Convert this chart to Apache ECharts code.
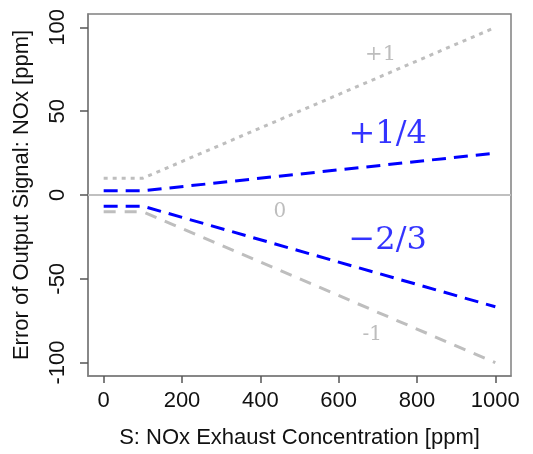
<!DOCTYPE html>
<html><head><meta charset="utf-8">
<script src="https://cdn.jsdelivr.net/npm/echarts@6/dist/echarts.min.js"></script>
<style>html,body{margin:0;padding:0;background:#fff}#c{width:533px;height:454px}</style>
</head><body><div id="c"></div>
<script>
// Data
const sValues = [0, 100, 1000];
const plusOne = [10, 10, 100];
const plusQuarter = [2.5, 2.5, 25];
const minusTwoThirds = [-6.67, -6.67, -66.7];
const minusOne = [-10, -10, -100];
const xTicks = [0, 200, 400, 600, 800, 1000];
const yTicks = [-100, -50, 0, 50, 100];
const annText = ['+1', '+1/4', '0', '\u22122/3', '-1'];
const annX = [707, 725, 450, 725, 686];
const annY = [84, 36, -10.2, -27.5, -83.6];

const pairs = ys => sValues.map((s, i) => [s, ys[i]]);
const annStyle = [
  {color: '#adadad', size: 21},
  {color: '#0000ff', size: 32},
  {color: '#adadad', size: 20},
  {color: '#0000ff', size: 32},
  {color: '#adadad', size: 20}
];
const chart = echarts.init(document.getElementById('c'), null, {renderer: 'canvas'});
chart.setOption({
  animation: false,
  grid: {left: 88, right: 22, top: 14, bottom: 78, show: true, borderColor: '#808080', borderWidth: 1.5},
  xAxis: {
    type: 'value', min: -40, max: 1040,
    name: 'S: NOx Exhaust Concentration [ppm]', nameLocation: 'middle', nameGap: 51,
    nameTextStyle: {fontFamily: 'Liberation Sans', fontSize: 22, color: '#111'},
    axisLine: {show: true, onZero: false, lineStyle: {color: '#808080', width: 1.5}},
    splitLine: {show: false},
    axisTick: {show: true, length: 7, customValues: xTicks, lineStyle: {color: '#555', width: 1.5}},
    axisLabel: {customValues: xTicks, formatter: v => String(v), fontFamily: 'Liberation Sans', fontSize: 22, color: '#111', margin: 14}
  },
  yAxis: {
    type: 'value', min: -108, max: 108,
    name: 'Error of Output Signal: NOx [ppm]', nameLocation: 'middle', nameGap: 55, nameRotate: 90,
    nameTextStyle: {fontFamily: 'Liberation Sans', fontSize: 22, color: '#111'},
    axisLine: {show: true, onZero: false, lineStyle: {color: '#808080', width: 1.5}},
    splitLine: {show: false},
    axisTick: {show: true, length: 8, customValues: yTicks, lineStyle: {color: '#555', width: 1.5}},
    axisLabel: {customValues: yTicks, formatter: v => String(v), rotate: 90, fontFamily: 'Liberation Sans', fontSize: 22, color: '#111', margin: 19}
  },
  series: [
    {type: 'line', data: pairs(plusOne), symbol: 'none', lineStyle: {color: '#bebebe', width: 3, type: [4, 5], cap: 'butt'},
     markLine: {silent: true, symbol: 'none', label: {show: false}, lineStyle: {color: '#c0c0c0', width: 2, type: 'solid'}, data: [{yAxis: 0}]}},
    {type: 'line', data: pairs(plusQuarter), symbol: 'none', lineStyle: {color: '#0000ff', width: 3, type: [14, 8], cap: 'butt'}},
    {type: 'line', data: pairs(minusTwoThirds), symbol: 'none', lineStyle: {color: '#0000ff', width: 3, type: [14, 8], cap: 'butt'}},
    {type: 'line', data: pairs(minusOne), symbol: 'none', lineStyle: {color: '#bebebe', width: 3, type: [12, 9], cap: 'butt'}},
    {type: 'scatter', symbolSize: 0, silent: true,
     data: annText.map((t, i) => ({value: [annX[i], annY[i]],
       label: {show: true, position: 'inside', formatter: t, fontFamily: 'DejaVu Serif', fontSize: annStyle[i].size, color: annStyle[i].color}}))}
  ]
});
</script></body></html>
